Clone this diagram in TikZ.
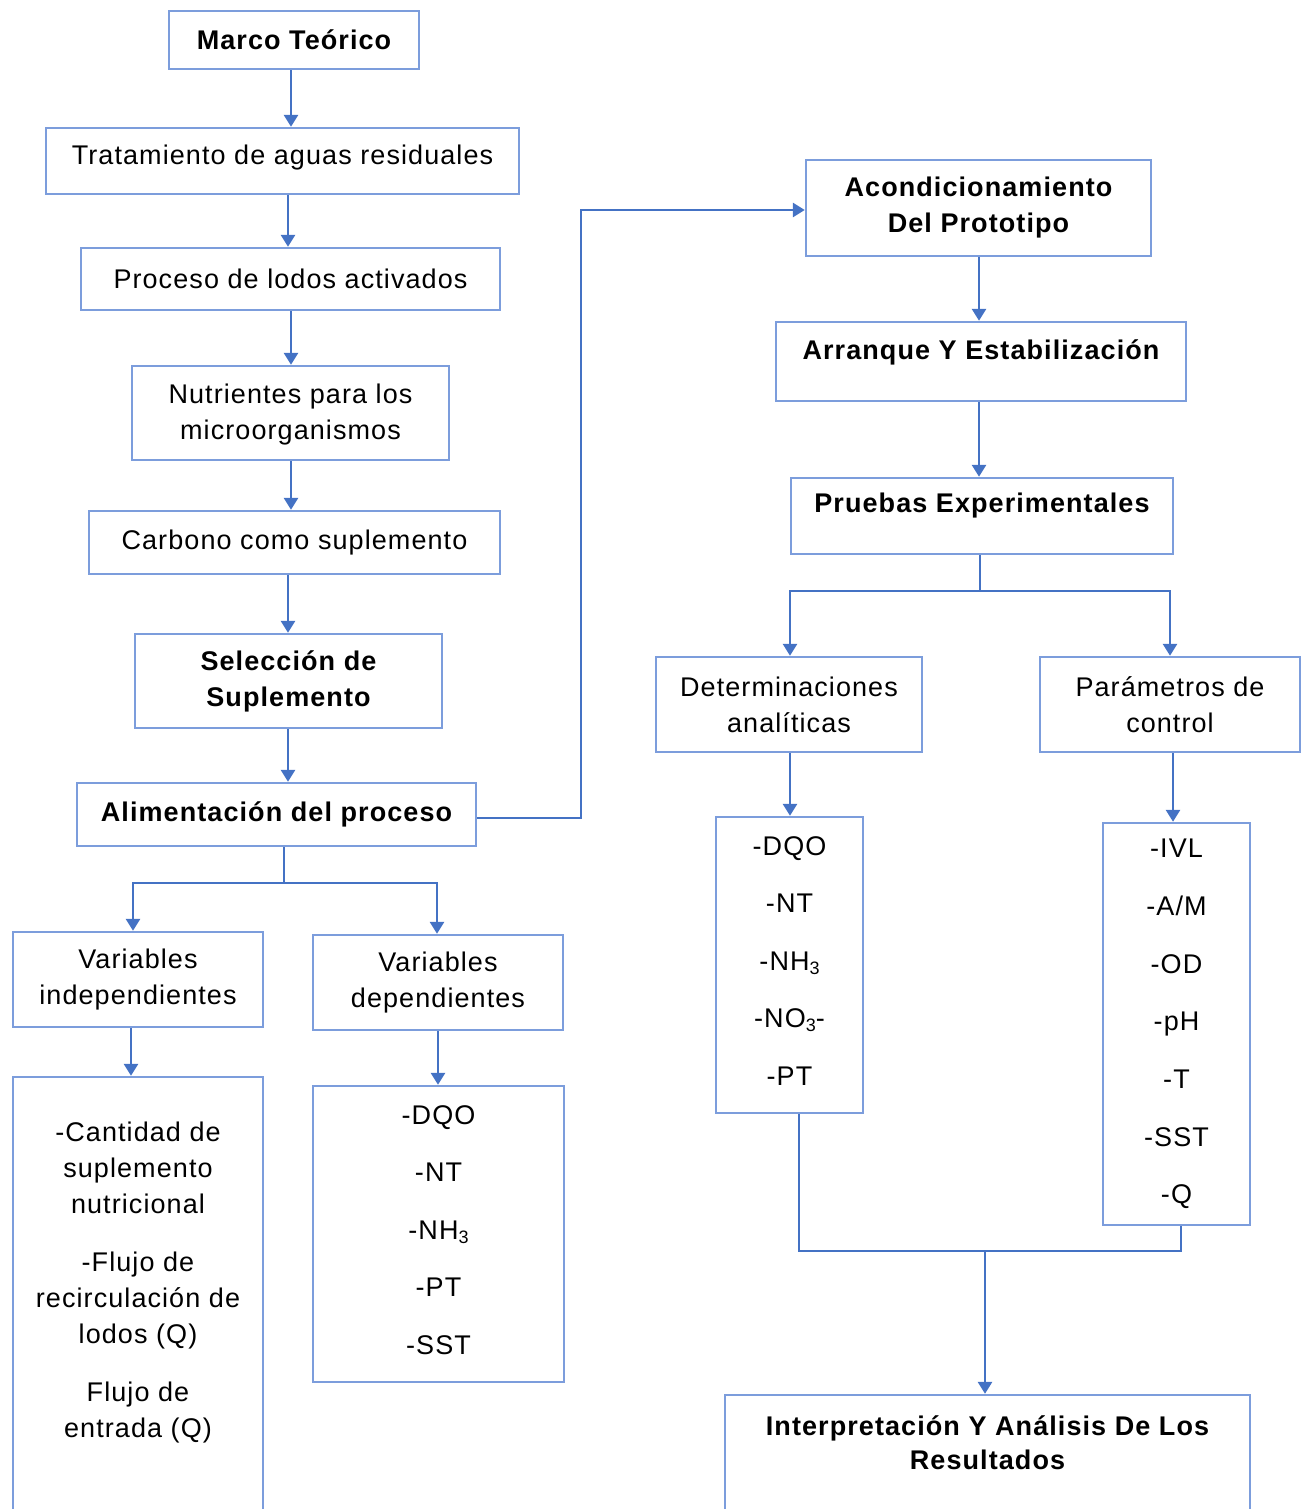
\documentclass[tikz,border=0pt]{standalone}
\usepackage{fontspec}
\setmainfont[LetterSpace=4]{Liberation Sans}
\usetikzlibrary{arrows.meta}
\definecolor{boxblue}{HTML}{7C9DDC}
\definecolor{arrblue}{HTML}{4472C4}
\newcommand\sbt[1]{\raisebox{-4pt}{\fontsize{18}{18}\selectfont #1}}
\begin{document}
\begin{tikzpicture}[x=1pt,y=-1pt,
  box/.style={draw=boxblue,line width=2.4pt,inner sep=0pt,fill=white},
  txt/.style={align=center,inner sep=0pt,font=\fontsize{27}{36}\selectfont},
  btxt/.style={align=center,inner sep=0pt,font=\fontsize{27}{36}\selectfont\bfseries},
  ln/.style={draw=arrblue,line width=2.8pt},
  arr/.style={ln,-{Triangle[width=14pt,length=12pt]}}]
\useasboundingbox (0,0) rectangle (1302,1509);
\clip (0,0) rectangle (1302,1509);
% column coordinates
\coordinate (x291) at (291,0);
\coordinate (x288) at (288,0);
\coordinate (x284) at (284,0);
\coordinate (x133) at (133,0);
\coordinate (x437) at (437,0);
\coordinate (x131) at (131,0);
\coordinate (x438) at (438,0);
\coordinate (x979) at (979,0);
\coordinate (x790) at (790,0);
\coordinate (x1170) at (1170,0);
\coordinate (x1173) at (1173,0);
\coordinate (x799) at (799,0);
\coordinate (x1181) at (1181,0);
\coordinate (jA) at (284,883);
\coordinate (jP) at (980,591);
\coordinate (jR) at (985,1251);
\coordinate (xR) at (581,0);

% left column boxes
\node[box,btxt,minimum width=250,minimum height=58] (marco) at (294,40) {Marco Teórico};
\node[box,minimum width=473,minimum height=66] (trat) at (282.5,161) {};
\node[txt] (tratT) at (282.5,158) {Tratamiento de aguas residuales};
\node[box,txt,minimum width=419,minimum height=62] (proc) at (290.5,279) {Proceso de lodos activados};
\node[box,minimum width=317,minimum height=94] (nutr) at (290.5,413) {};
\node[txt] (nutrT) at (290.5,415) {Nutrientes para los\\microorganismos};
\node[box,txt,minimum width=411,minimum height=63] (carb) at (294.5,542.5) {Carbono como suplemento};
\node[box,btxt,minimum width=307,minimum height=94] (sel) at (288.5,681) {Selección de\\Suplemento};
\node[box,btxt,minimum width=399,minimum height=63] (alim) at (276.5,814.5) {Alimentación del proceso};
\node[box,txt,minimum width=250,minimum height=95] (vind) at (138,979.5) {Variables\\independientes};
\node[box,txt,minimum width=250,minimum height=95] (vdep) at (438,982.5) {Variables\\dependientes};
\node[box,minimum width=250,minimum height=440] (lind) at (138,1297) {};
\node[txt] (lindT) at (138,1282.5) {-Cantidad de\\suplemento\\nutricional\\[22pt]-Flujo de\\recirculación de\\lodos (Q)\\[22pt]Flujo de\\entrada (Q)};
\node[box,minimum width=251,minimum height=296] (ldep) at (438.5,1234) {};
\node[txt] (ldepT) at (438.5,1230) {-DQO\\[21.5pt]-NT\\[21.5pt]-NH\sbt{3}\\[21.5pt]-PT\\[21.5pt]-SST};

% right column boxes
\node[box,btxt,minimum width=345,minimum height=96] (acond) at (978.5,208) {Acondicionamiento\\Del Prototipo};
\node[box,minimum width=410,minimum height=79] (arr) at (981,361.5) {};
\node[btxt] (arrT) at (981,352) {Arranque Y Estabilización};
\node[box,minimum width=382,minimum height=76] (prue) at (982,516) {};
\node[btxt] (prueT) at (982,506) {Pruebas Experimentales};
\node[box,txt,minimum width=266,minimum height=95] (det) at (789,704.5) {Determinaciones\\analíticas};
\node[box,txt,minimum width=260,minimum height=95] (par) at (1170,704.5) {Parámetros de\\control};
\node[box,minimum width=147,minimum height=296] (ldqo) at (789.5,965) {};
\node[txt] (ldqoT) at (789.5,961) {-DQO\\[21.5pt]-NT\\[21.5pt]-NH\sbt{3}\\[21.5pt]-NO\sbt{3}-\\[21.5pt]-PT};
\node[box,txt,minimum width=147,minimum height=402] (livl) at (1176.5,1024) {-IVL\\[21.7pt]-A/M\\[21.7pt]-OD\\[21.7pt]-pH\\[21.7pt]-T\\[21.7pt]-SST\\[21.7pt]-Q};
\node[box,minimum width=525,minimum height=130] (interp) at (987.5,1460) {};
\node[btxt,font=\fontsize{27}{34}\selectfont\bfseries] (interpT) at (987.5,1443) {Interpretación Y Análisis De Los\\Resultados};

% connectors left
\draw[arr] (x291 |- marco.south) -- (x291 |- trat.north);
\draw[arr] (x288 |- trat.south) -- (x288 |- proc.north);
\draw[arr] (x291 |- proc.south) -- (x291 |- nutr.north);
\draw[arr] (x291 |- nutr.south) -- (x291 |- carb.north);
\draw[arr] (x288 |- carb.south) -- (x288 |- sel.north);
\draw[arr] (x288 |- sel.south) -- (x288 |- alim.north);
\draw[ln] (x284 |- alim.south) -- (jA);
\draw[arr] (jA) -| (x133 |- vind.north);
\draw[arr] (jA) -| (x437 |- vdep.north);
\draw[arr] (x131 |- vind.south) -- (x131 |- lind.north);
\draw[arr] (x438 |- vdep.south) -- (x438 |- ldep.north);
\draw[arr] ([yshift=-3.5]alim.east) -- ([yshift=-3.5]xR |- alim.east) -- ([yshift=-2]xR |- acond.west) -- ([yshift=-2]acond.west);

% connectors right
\draw[arr] (x979 |- acond.south) -- (x979 |- arr.north);
\draw[arr] (x979 |- arr.south) -- (x979 |- prue.north);
\draw[ln] (jP |- prue.south) -- (jP);
\draw[arr] (jP) -| (x790 |- det.north);
\draw[arr] (jP) -| (x1170 |- par.north);
\draw[arr] (x790 |- det.south) -- (x790 |- ldqo.north);
\draw[arr] (x1173 |- par.south) -- (x1173 |- livl.north);
\draw[ln] (x799 |- ldqo.south) |- (x1181 |- jR) -- (x1181 |- livl.south);
\draw[arr] (jR) -- (jR |- interp.north);
\end{tikzpicture}
\end{document}
